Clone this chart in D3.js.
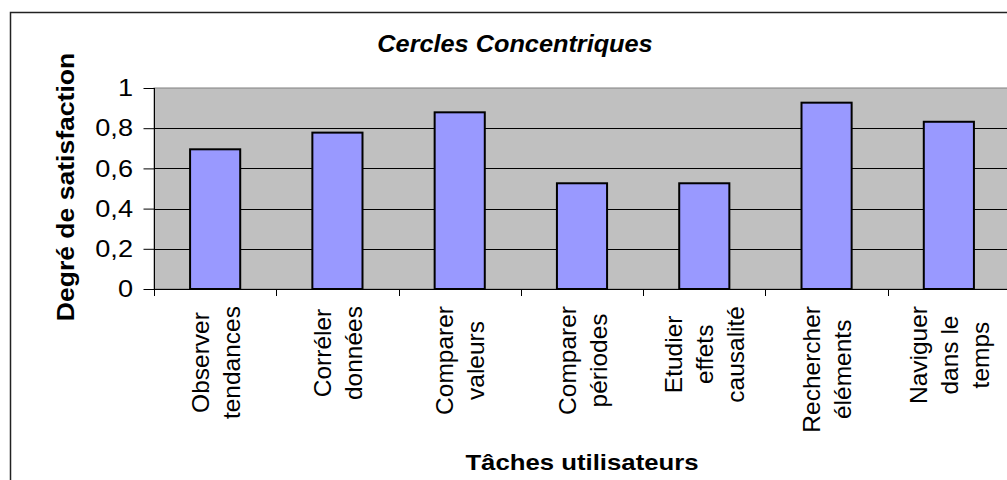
<!DOCTYPE html>
<html>
<head>
<meta charset="utf-8">
<script src="https://cdn.jsdelivr.net/npm/d3@7"></script>
<style>
  html, body { margin: 0; padding: 0; background: #fff; }
  svg { display: block; }
  text { font-family: "Liberation Sans", Arial, Helvetica, sans-serif; fill: #000; }
</style>
</head>
<body>
<svg id="chart" width="1007" height="480"></svg>
<script>
// Task categories (each label split into its wrapped lines)
const categories = [
  "Observer tendances",
  "Corréler données",
  "Comparer valeurs",
  "Comparer périodes",
  "Etudier effets causalité",
  "Rechercher éléments",
  "Naviguer dans le temps"
];
const categoryLines = [
  ["Observer", "tendances"],
  ["Corréler", "données"],
  ["Comparer", "valeurs"],
  ["Comparer", "périodes"],
  ["Etudier", "effets", "causalité"],
  ["Rechercher", "éléments"],
  ["Naviguer", "dans le", "temps"]
];
// Satisfaction score per task
const satisfaction = [0.695, 0.778, 0.879, 0.526, 0.526, 0.927, 0.832];
// Value axis ticks and their French-formatted labels
const yTickValues = [0, 0.2, 0.4, 0.6, 0.8, 1];
const yTickLabels = ["0", "0,2", "0,4", "0,6", "0,8", "1"];

const chartTitle = "Cercles Concentriques";
const xTitle = "Tâches utilisateurs";
const yTitle = "Degré de satisfaction";

const svg = d3.select("#chart");

// Plot area bounds
const plot = { left: 154, right: 1010, top: 88, bottom: 289 };

const x = d3.scaleBand()
  .domain(categories)
  .range([plot.left, plot.right])
  .paddingInner(0.59)
  .paddingOuter(0.295);

const y = d3.scaleLinear()
  .domain([0, 1])
  .range([plot.bottom, plot.top]);

// Outer chart frame
svg.append("rect")
  .attr("x", 10.5).attr("y", 12.5)
  .attr("width", 1030).attr("height", 500)
  .attr("fill", "#fff")
  .attr("stroke", "#222").attr("stroke-width", 1.5);

// Plot background
svg.append("rect")
  .attr("x", plot.left).attr("y", y(1))
  .attr("width", plot.right - plot.left)
  .attr("height", y(0) - y(1))
  .attr("fill", "#c0c0c0")
  .attr("stroke", "#808080").attr("stroke-width", 1);

// Horizontal gridlines
svg.append("g")
  .selectAll("line")
  .data(yTickValues.filter(v => v > 0 && v < 1))
  .join("line")
  .attr("x1", plot.left).attr("x2", plot.right)
  .attr("y1", d => Math.round(y(d)) + 0.5)
  .attr("y2", d => Math.round(y(d)) + 0.5)
  .attr("stroke", "#000").attr("stroke-width", 1);

// Bars
svg.append("g")
  .selectAll("rect")
  .data(categories)
  .join("rect")
  .attr("x", d => x(d))
  .attr("y", (d, i) => y(satisfaction[i]))
  .attr("width", x.bandwidth())
  .attr("height", (d, i) => y(0) - y(satisfaction[i]))
  .attr("fill", "#9999ff")
  .attr("stroke", "#000").attr("stroke-width", 2);

// Y axis (ticks outward, labels drawn separately for the stretched face)
const yAxis = d3.axisLeft(y)
  .tickValues(yTickValues)
  .tickSize(11)
  .tickFormat("");
const gy = svg.append("g")
  .attr("transform", `translate(${plot.left + 0.5},0)`)
  .call(yAxis);
gy.select(".domain").attr("stroke", "#000").attr("d", `M-0,${plot.top}V${plot.bottom + 7}`);
gy.selectAll(".tick line").attr("stroke", "#000");

svg.append("g")
  .selectAll("text")
  .data(yTickValues)
  .join("text")
  .attr("transform", d => `translate(133,${y(d)}) scale(1.18,1)`)
  .attr("text-anchor", "end")
  .attr("dy", "0.36em")
  .style("font-size", "23px")
  .text((d, i) => yTickLabels[i]);

// X axis: baseline plus boundary ticks between categories
const step = x.step();
const boundaries = categories.map(c => x(c) + x.bandwidth() / 2 - step / 2)
  .concat([x(categories[categories.length - 1]) + x.bandwidth() / 2 + step / 2]);
svg.append("line")
  .attr("x1", plot.left).attr("x2", plot.right)
  .attr("y1", plot.bottom + 0.5).attr("y2", plot.bottom + 0.5)
  .attr("stroke", "#000");
svg.append("g")
  .selectAll("line")
  .data(boundaries)
  .join("line")
  .attr("x1", d => Math.round(d) + 0.5).attr("x2", d => Math.round(d) + 0.5)
  .attr("y1", plot.bottom).attr("y2", plot.bottom + 7)
  .attr("stroke", "#000");

// Rotated, wrapped category labels
const labelTop = 306;
const lineStep = 31;
const capHalf = 9;
const labelGroups = svg.append("g")
  .selectAll("g")
  .data(categories)
  .join("g")
  .attr("transform", d => `translate(${x(d) + x.bandwidth() / 2},${labelTop}) rotate(-90)`);

labelGroups.each(function (d, i) {
  const g = d3.select(this);
  const lines = categoryLines[i];
  const n = lines.length;
  const texts = g.selectAll("text")
    .data(lines)
    .join("text")
    .attr("text-anchor", "middle")
    .attr("y", (t, j) => capHalf + (j - (n - 1) / 2) * lineStep)
    .style("font-size", "24.5px")
    .text(t => t);
  const maxLen = d3.max(texts.nodes(), node => node.getComputedTextLength());
  texts.attr("x", -maxLen / 2);
});

// Titles
svg.append("text")
  .attr("transform", "translate(515,52) scale(1.1,1)")
  .attr("text-anchor", "middle")
  .style("font-size", "23px")
  .style("font-weight", "bold")
  .style("font-style", "italic")
  .text(chartTitle);

svg.append("text")
  .attr("transform", "translate(582,470) scale(1.12,1)")
  .attr("text-anchor", "middle")
  .style("font-size", "23px")
  .style("font-weight", "bold")
  .text(xTitle);

svg.append("text")
  .attr("transform", "translate(74,187) rotate(-90) scale(1.13,1)")
  .attr("text-anchor", "middle")
  .style("font-size", "23.5px")
  .style("font-weight", "bold")
  .text(yTitle);
</script>
</body>
</html>
